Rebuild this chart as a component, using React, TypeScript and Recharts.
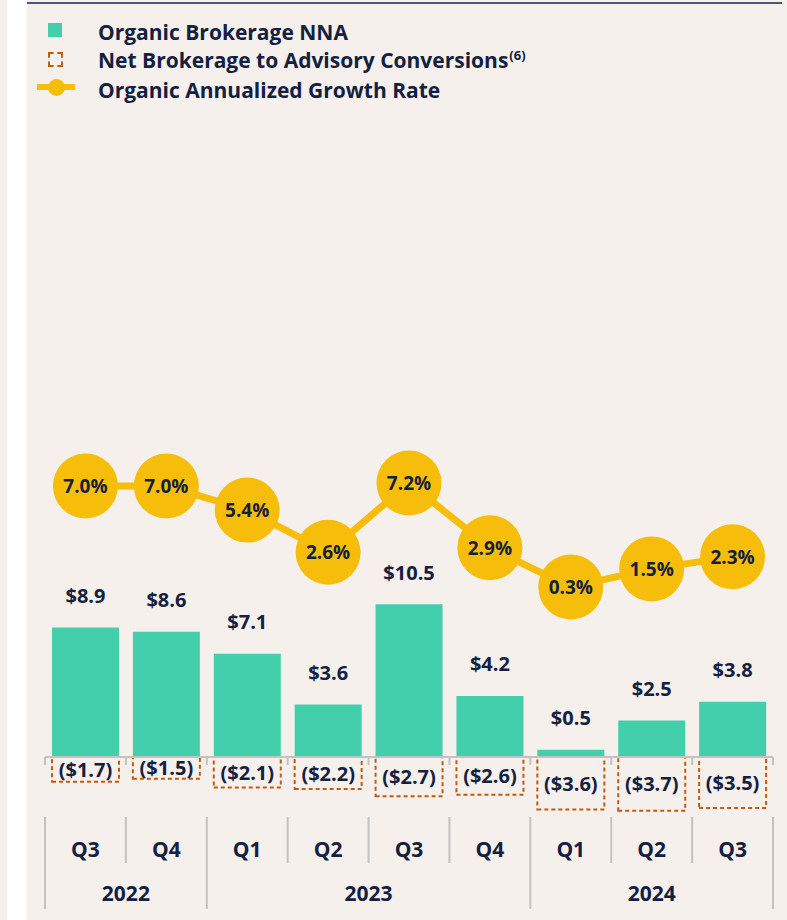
import React from 'react'
import { Bar, ComposedChart, LabelList, Line, ReferenceLine, XAxis, YAxis } from 'recharts'

const quarters = ['Q3', 'Q4', 'Q1', 'Q2', 'Q3', 'Q4', 'Q1', 'Q2', 'Q3']
const years = ['2022', '2022', '2023', '2023', '2023', '2023', '2024', '2024', '2024']
const brokerageNNA = [8.9, 8.6, 7.1, 3.6, 10.5, 4.2, 0.5, 2.5, 3.8]
const advisoryConversions = [-1.7, -1.5, -2.1, -2.2, -2.7, -2.6, -3.6, -3.7, -3.5]
const growthRate = [7.0, 7.0, 5.4, 2.6, 7.2, 2.9, 0.3, 1.5, 2.3]

const data = quarters.map((q, i) => ({
  key: `${years[i]}-${q}`,
  nna: brokerageNNA[i],
  conv: advisoryConversions[i],
  rate: growthRate[i],
}))

const FONT = '"Open Sans", "Noto Sans", sans-serif'
const NAVY = '#13203F'
const TEAL = '#44CFAC'
const GOLD = '#F6BE0B'
const ORANGE = '#C45A0C'
const GRID = '#C4C2C0'
const BG = '#F5F0EC'

function PosLabel(props: any) {
  const { x, y, width, value } = props
  return (
    <text x={x + width / 2} y={y - 32} textAnchor="middle" dominantBaseline="central" fill={NAVY} fontSize={20} fontWeight={700} fontFamily={FONT}>
      {'$' + Number(value).toFixed(1)}
    </text>
  )
}

function NegLabel(props: any) {
  const { x, y, width, height, value } = props
  return (
    <text x={x + width / 2} y={y + height / 2} textAnchor="middle" dominantBaseline="central" fill={NAVY} fontSize={20} fontWeight={700} fontFamily={FONT}>
      {'($' + Math.abs(Number(value)).toFixed(1) + ')'}
    </text>
  )
}

function RateDot(props: any) {
  const { cx, cy, value } = props
  if (cx == null || cy == null) return null
  return (
    <g key={`dot-${cx}`}>
      <circle cx={cx} cy={cy} r={32.5} fill={GOLD} />
      <text x={cx} y={cy} textAnchor="middle" dominantBaseline="central" fill={NAVY} fontSize={19} fontWeight={700} fontFamily={FONT}>
        {Number(value).toFixed(1) + '%'}
      </text>
    </g>
  )
}

function Baseline(props: any) {
  const { x1, x2, y1 } = props
  const n = quarters.length
  const step = (x2 - x1) / n
  return (
    <g>
      <line x1={x1} x2={x2} y1={y1} y2={y1} stroke={GRID} strokeWidth={2} />
      {Array.from({ length: n + 1 }, (_, k) => (
        <line key={k} x1={x1 + k * step} x2={x1 + k * step} y1={y1} y2={y1 + 8} stroke={GRID} strokeWidth={2} />
      ))}
    </g>
  )
}

function TableTick(props: any) {
  const { x, y, index, width, visibleTicksCount } = props
  const count = visibleTicksCount || quarters.length
  const band = (width || 728) / count
  const left = x - band / 2
  const yearStart = index === 0 || years[index] !== years[index - 1]
  let span = 0
  if (yearStart) {
    while (index + span < years.length && years[index + span] === years[index]) span++
  }
  const isLast = index === count - 1
  const txt = { textAnchor: 'middle' as const, dominantBaseline: 'central' as const, fill: NAVY, fontSize: 21, fontWeight: 700, fontFamily: FONT }
  return (
    <g>
      <line x1={left} x2={left} y1={y} y2={y + (yearStart ? 92 : 46)} stroke={GRID} strokeWidth={2} />
      {isLast && <line x1={left + band} x2={left + band} y1={y} y2={y + 92} stroke={GRID} strokeWidth={2} />}
      <text x={x} y={y + 32} {...txt}>{quarters[index]}</text>
      {yearStart && <text x={left + (span * band) / 2} y={y + 76} {...txt}>{years[index]}</text>}
    </g>
  )
}

function LegendBlock() {
  const text: React.CSSProperties = { position: 'absolute', left: 98, height: 24, lineHeight: '24px', fontSize: 21, fontWeight: 700, color: NAVY, whiteSpace: 'nowrap' }
  return (
    <>
      <div style={{ position: 'absolute', left: 48, top: 23, width: 14, height: 14, background: TEAL }} />
      <div style={{ ...text, top: 20 }}>Organic Brokerage NNA</div>
      <div style={{ position: 'absolute', left: 48, top: 52, width: 11, height: 11, border: `2px dashed ${ORANGE}` }} />
      <div style={{ ...text, top: 48 }}>
        Net Brokerage to Advisory Conversions
        <span style={{ fontSize: 13, position: 'relative', top: -8, marginLeft: 1 }}>(6)</span>
      </div>
      <div style={{ position: 'absolute', left: 37, top: 84, width: 38, height: 6, background: GOLD }} />
      <div style={{ position: 'absolute', left: 47.5, top: 78.5, width: 17, height: 17, borderRadius: 9, background: GOLD }} />
      <div style={{ ...text, top: 77.5 }}>Organic Annualized Growth Rate</div>
    </>
  )
}

export default function App() {
  return (
    <div style={{ position: 'absolute', left: 0, top: 0, width: 787, height: 920, background: BG, fontFamily: FONT, overflow: 'hidden' }}>
      <div style={{ position: 'absolute', left: 7, top: 0, width: 20, height: 920, background: '#FFFFFF' }} />
      <div style={{ position: 'absolute', left: 27, top: 2, width: 755, height: 2, background: '#4D5770' }} />
      <LegendBlock />
      <div style={{ position: 'absolute', left: 0, top: 0 }}>
        <ComposedChart width={787} height={920} data={data} stackOffset="sign" margin={{ top: 400, right: 14, bottom: 0, left: 45 }}>
          <XAxis dataKey="key" height={103} interval={0} axisLine={false} tickLine={false} tickSize={0} tickMargin={0} tick={<TableTick />} />
          <YAxis yAxisId="bars" hide domain={[-4.124, 24.536]} allowDataOverflow />
          <YAxis yAxisId="rate" hide domain={[-14.963, 12.707]} allowDataOverflow />
          <Bar yAxisId="bars" dataKey="nna" stackId="s" fill={TEAL} barSize={67} isAnimationActive={false}>
            <LabelList dataKey="nna" content={<PosLabel />} />
          </Bar>
          <Bar yAxisId="bars" dataKey="conv" stackId="s" fill="none" stroke={ORANGE} strokeWidth={2} strokeDasharray="4 3" barSize={67} isAnimationActive={false}>
            <LabelList dataKey="conv" content={<NegLabel />} />
          </Bar>
          <ReferenceLine yAxisId="bars" y={0} shape={(p: any) => <Baseline {...p} />} />
          <Line yAxisId="rate" dataKey="rate" stroke={GOLD} strokeWidth={7} dot={(p: any) => <RateDot {...p} />} activeDot={false} isAnimationActive={false} />
        </ComposedChart>
      </div>
    </div>
  )
}
